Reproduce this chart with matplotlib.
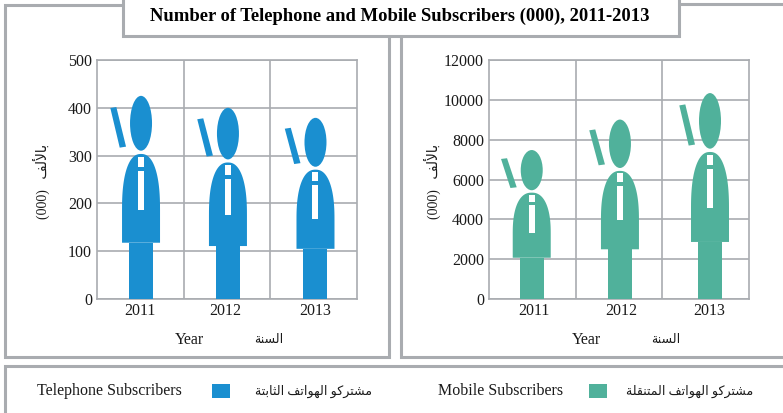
"""Telephone and mobile subscribers 2011-2013, drawn as person pictograms."""
import numpy as np
import matplotlib
matplotlib.use("Agg")
import matplotlib.pyplot as plt
from matplotlib.patches import Ellipse, Polygon, Rectangle

W, H = 783, 413

years = ["2011", "2012", "2013"]
telephone_values = [425, 400, 379]
mobile_values = [7480, 9010, 10340]
telephone_ticks = [0, 100, 200, 300, 400, 500]
mobile_ticks = [0, 2000, 4000, 6000, 8000, 10000, 12000]

TITLE = "Number of Telephone and Mobile Subscribers (000), 2011-2013"
YEAR = "Year"
TEL_LABEL = "Telephone Subscribers"
MOB_LABEL = "Mobile Subscribers"

# arabic in presentation forms, logical order (matplotlib has no shaping)
AR_YEAR = "\ufe8d\ufedf\ufeb4\ufee8\ufe94"
AR_THOUSAND = "\ufe91\ufe8e\ufef7\ufedf\ufed2"
AR_SUBS = "\ufee3\ufeb8\ufe98\ufeae\ufedb\ufeee"
AR_PHONES = "\ufe8d\ufedf\ufeec\ufeee\ufe8d\ufe97\ufed2"
AR_FIXED = "\ufe8d\ufedf\ufe9c\ufe8e\ufe91\ufe98\ufe94"
AR_MOBILE = "\ufe8d\ufedf\ufee4\ufe98\ufee8\ufed8\ufee0\ufe94"

C_TEL = "#1a8fd0"
C_MOB = "#50b19b"
C_LINE = "#a9acb0"
INK = "#1a1a1a"
SERIF = ["Liberation Serif", "DejaVu Sans"]
TEXT_SIZE = 11.5
AR_SIZE = 9.1

plt.rcParams["font.family"] = SERIF


def ar(*words):
    # visual order for left-to-right drawing
    return " ".join(words)[::-1]


def person(ax, xc, value, color):
    px = 260 / 3  # one category in pixels
    # legs
    ax.add_patch(Rectangle((xc - 12 / px, 0), 24 / px, 0.277 * value, fc=color, ec="none", zorder=3))
    # torso: slightly full dome on straight sides
    t = np.linspace(0, np.pi, 60)
    bx = xc + 19 / px * np.sign(np.cos(t)) * np.abs(np.cos(t)) ** 0.85
    by = value * (0.44 + 0.274 * np.sin(t) ** 0.85)
    pts = np.column_stack([np.r_[xc + 19 / px, bx, xc - 19 / px],
                           np.r_[0.277 * value, by, 0.277 * value]])
    ax.add_patch(Polygon(pts, closed=True, fc=color, ec="none", zorder=3))
    # tie
    for y0, y1 in [(0.65, 0.70), (0.44, 0.63)]:
        ax.add_patch(Rectangle((xc - 3 / px, y0 * value), 6 / px, (y1 - y0) * value,
                               fc="white", ec="none", zorder=4))
    # head
    ax.add_patch(Ellipse((xc, 0.865 * value), 22 / px, 0.27 * value, fc=color, ec="none", zorder=3))
    # stick
    stick = [(xc - 30.7 / px, 0.94 * value), (xc - 24.7 / px, 0.945 * value),
             (xc - 15 / px, 0.75 * value), (xc - 21.3 / px, 0.745 * value)]
    ax.add_patch(Polygon(stick, closed=True, fc=color, ec="none", zorder=3))


def chart(left, values, ticks, color, xs, label_xs):
    ax = fig.add_axes([left / W, 1 - 299 / H, 260 / W, 239 / H])
    ax.set_xlim(0, 3)
    ax.set_ylim(0, ticks[-1])
    ax.set_yticks(ticks)
    ax.set_xticks([1, 2])
    ax.tick_params(length=0, labelbottom=False, labelsize=TEXT_SIZE, labelcolor=INK, pad=3.5)
    ax.grid(True, color=C_LINE, lw=1.2)
    ax.set_axisbelow(True)
    for s in ax.spines.values():
        s.set_color(C_LINE)
        s.set_linewidth(1.2)
    for xc, v in zip(xs, values):
        person(ax, xc, v, color)
    for lx, yr in zip(label_xs, years):
        bg.text(left + lx * 260 / 3, 311, yr, ha="center", va="center", fontsize=TEXT_SIZE, color=INK)
    return ax


fig = plt.figure(figsize=(W / 100, H / 100), dpi=100, facecolor="white")
bg = fig.add_axes([0, 0, 1, 1])
bg.set_xlim(0, W)
bg.set_ylim(H, 0)
bg.axis("off")


def frame(x0, y0, x1, y1, z=1):
    bg.add_patch(Rectangle((x0, y0), x1 - x0, y1 - y0, fc="white", ec=C_LINE, lw=2.2, zorder=z))


frame(5, 5, 388.5, 356.5)
frame(400.5, 4, 800, 356.5)
frame(5, 366, 800, 430)
frame(122.5, -10, 678.5, 35.5, z=2)

bg.text(400, 16, TITLE, ha="center", va="center", fontsize=13.4, fontweight="bold", color="black", zorder=3)

chart(97, telephone_values, telephone_ticks, C_TEL, [0.508, 1.511, 2.521], [0.497, 1.485, 2.52])
chart(489, mobile_values, mobile_ticks, C_MOB, [0.493, 1.511, 2.55], [0.515, 1.53, 2.54])

# axis captions
for x_year, x_ar, x_side in [(189.5, 268.5, 41), (586.5, 665.5, 432)]:
    bg.text(x_year, 340, YEAR, ha="center", va="center", fontsize=TEXT_SIZE, color=INK)
    bg.text(x_ar, 340, ar(AR_YEAR), ha="center", va="center", fontsize=AR_SIZE, color=INK)
    bg.text(x_side, 181, "(000)   " + ar(AR_THOUSAND), rotation=90, ha="center", va="center",
            fontsize=10, color=INK)

# legend
bg.add_patch(Rectangle((212, 384), 18, 14, fc=C_TEL, ec="none"))
bg.add_patch(Rectangle((589, 384), 18, 14, fc=C_MOB, ec="none"))
bg.text(37, 391, TEL_LABEL, ha="left", va="center", fontsize=TEXT_SIZE, color=INK)
bg.text(438, 391, MOB_LABEL, ha="left", va="center", fontsize=TEXT_SIZE, color=INK)
bg.text(372, 391, ar(AR_SUBS, AR_PHONES, AR_FIXED), ha="right", va="center", fontsize=AR_SIZE, color=INK)
bg.text(753, 391, ar(AR_SUBS, AR_PHONES, AR_MOBILE), ha="right", va="center", fontsize=AR_SIZE, color=INK)

fig.savefig("out.png", dpi=100)
